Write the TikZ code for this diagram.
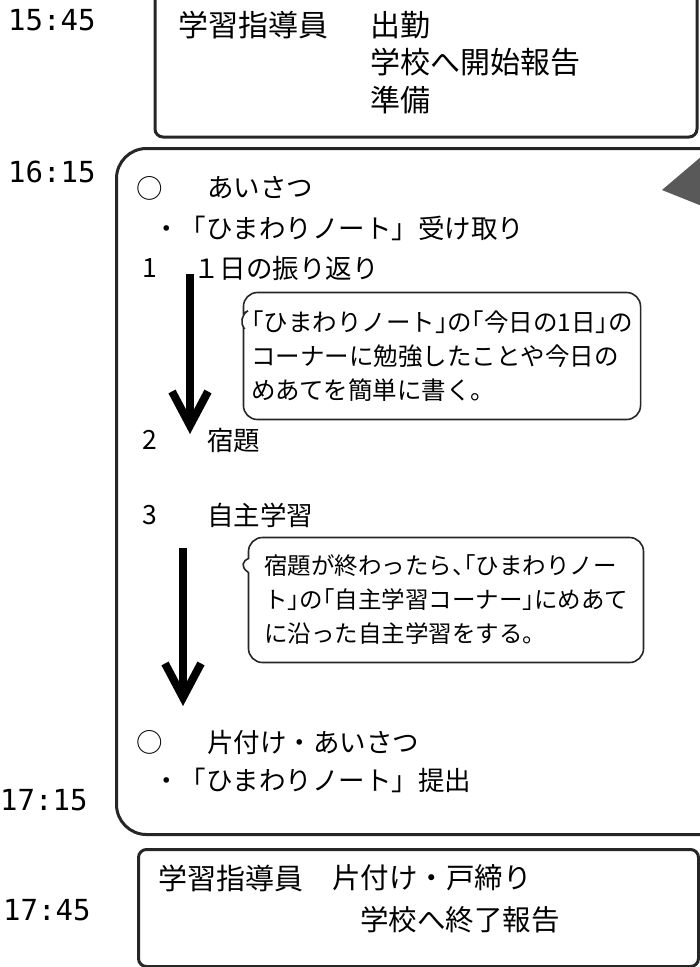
\documentclass[tikz,border=0pt]{standalone}
\usepackage{fontspec}
\setmainfont{Noto Sans CJK JP}
\newfontfamily\timefont{DejaVu Sans Mono}
\usetikzlibrary{positioning, arrows.meta, shapes.callouts}

\tikzset{
  frame/.style={draw=black!85, line width=3pt, rounded corners=#1},
  frame/.default=8pt,
  clock/.style={font=\timefont\fontsize{29}{32}\selectfont, anchor=west, inner sep=0pt},
  big/.style={font=\fontsize{#1}{36}\selectfont, anchor=west, inner sep=0pt},
  big/.default=30,
  item/.style={font=\fontsize{26.5}{32}\selectfont, anchor=west, inner sep=0pt},
  num/.style={font=\fontsize{26.5}{32}\selectfont, inner sep=0pt},
  memo/.style={rectangle callout, draw=black!85, line width=1.6pt, rounded corners=14pt,
    minimum width=395pt, align=left, inner xsep=8pt,
    font={\fontsize{#1}{34}\selectfont\addfontfeature{RawFeature=+halt}},
    callout pointer width=14pt},
  memo/.default=24.5,
  flow/.style={line width=8pt, -{Straight Barb[length=34pt,width=36pt]}}
}

\begin{document}
\begin{tikzpicture}[x=1pt, y=-1pt]
  \useasboundingbox (0,0) rectangle (700,967);

  % times
  \node[clock] (t1) at (8,20) {15:45};
  \node[clock] (t2) at (8,172) {16:15};
  \node[clock] (t3) at (0,800) {17:15};
  \node[clock] (t4) at (3,910) {17:45};

  % before
  \node[frame, minimum width=542pt, minimum height=160pt] (top) at (426,57) {};
  \node[big] (who1) at (178,25) {学習指導員};
  \node[big] (d1) at (370,25) {出勤};
  \node[big] (d2) at (370,62) {学校へ開始報告};
  \node[big] (d3) at (370,100) {準備};

  % day
  \node[frame=30pt, minimum width=620pt, minimum height=686pt, anchor=north west] (day) at (115,147) {};
  \fill[black!65] (662,190) -- (702,156) -- (702,206) -- cycle;

  \node[num] (o1) at (150,188) {○};
  \node[item] (hello) at (207,188) {あいさつ};
  \node[item] (get) at (153,228) {・「ひまわりノート」受け取り};
  \node[num] (n1) at (150,268) {1};
  \node[item] (look) at (193,268) {１日の振り返り};
  \node[num] (n2) at (150,440) {2};
  \node[item] (hw) at (207,440) {宿題};
  \node[num] (n3) at (150,515) {3};
  \node[item] (self) at (207,515) {自主学習};
  \node[num] (o2) at (150,742) {○};
  \node[item] (bye) at (207,742) {片付け・あいさつ};
  \node[item] (give) at (153,780) {・「ひまわりノート」提出};

  \node[memo, minimum height=127pt, callout absolute pointer={(236,318)}] (m1) at (442,356)
    {「ひまわりノート」の「今日の1日」の\\コーナーに勉強したことや今日の\\めあてを簡単に書く。};
  \node[memo=23.5, minimum height=125pt, text width=364pt, callout absolute pointer={(236,563)}] (m2) at (446,600)
    {宿題が終わったら、「ひまわりノー\\ト」の「自主学習コーナー」にめあて\\に沿った自主学習をする。};

  \coordinate (a1) at (190,274);
  \coordinate (b1) at (190,434);
  \coordinate (a2) at (183,548);
  \coordinate (b2) at (183,706);
  \draw[flow] (a1) -- (b1);
  \draw[flow] (a2) -- (b2);

  % after
  \node[frame, minimum width=560pt, minimum height=117pt, anchor=north west] (end) at (137,848) {};
  \node[big=29] (who2) at (158,878) {学習指導員};
  \node[big=28.5] (e1) at (332,878) {片付け・戸締り};
  \node[big=28.5] (e2) at (360,920) {学校へ終了報告};
\end{tikzpicture}
\end{document}
